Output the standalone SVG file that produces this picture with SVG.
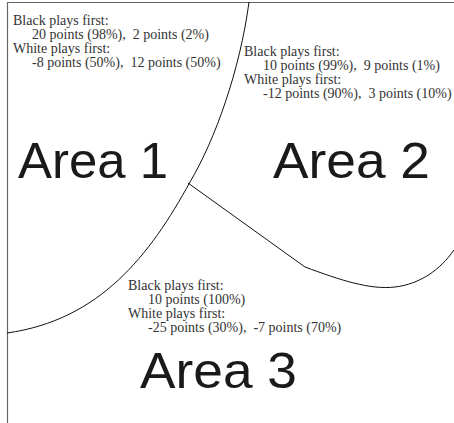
<svg xmlns="http://www.w3.org/2000/svg" width="454" height="423" viewBox="0 0 454 423">
<style>
.frame{fill:none;stroke:#666;stroke-width:1.2}
.bd{fill:none;stroke:#111;stroke-width:1}
.t{font-family:"Liberation Serif","Times New Roman",serif;font-size:14px;fill:#333;white-space:pre}
.big{font-family:"Liberation Sans",Arial,sans-serif;font-size:50px;fill:#1a1a1a}
</style>
<rect width="454" height="423" fill="#fff"/>
<g id="frame"><path class="frame" d="M7.5,423 V2.5 H454"/></g>
<g id="connectors">
<path class="bd" d="M249,2 C240,70 215,140 190,182 C150,255 100,320 7,333"/>
<path class="bd" d="M188,183 L305,267 C340,280 370,290 395,287 C420,284 440,270 454,250"/>
</g>
<g id="area1">
<text class="t" x="13" y="25">Black plays first:</text>
<text class="t" x="32" y="39" xml:space="preserve">20 points (98%),  2 points (2%)</text>
<text class="t" x="13" y="53">White plays first:</text>
<text class="t" x="32" y="67" xml:space="preserve">-8 points (50%),  12 points (50%)</text>
<text class="big" x="18" y="178" textLength="150" lengthAdjust="spacingAndGlyphs">Area 1</text>
</g>
<g id="area2">
<text class="t" x="244" y="56">Black plays first:</text>
<text class="t" x="263" y="70" xml:space="preserve">10 points (99%),  9 points (1%)</text>
<text class="t" x="244" y="84">White plays first:</text>
<text class="t" x="263" y="98" xml:space="preserve">-12 points (90%),  3 points (10%)</text>
<text class="big" x="273" y="178" textLength="157" lengthAdjust="spacingAndGlyphs">Area 2</text>
</g>
<g id="area3">
<text class="t" x="128" y="290">Black plays first:</text>
<text class="t" x="148" y="304">10 points (100%)</text>
<text class="t" x="128" y="318">White plays first:</text>
<text class="t" x="148" y="332" xml:space="preserve">-25 points (30%),  -7 points (70%)</text>
<text class="big" x="140" y="388" textLength="157" lengthAdjust="spacingAndGlyphs">Area 3</text>
</g>
</svg>
